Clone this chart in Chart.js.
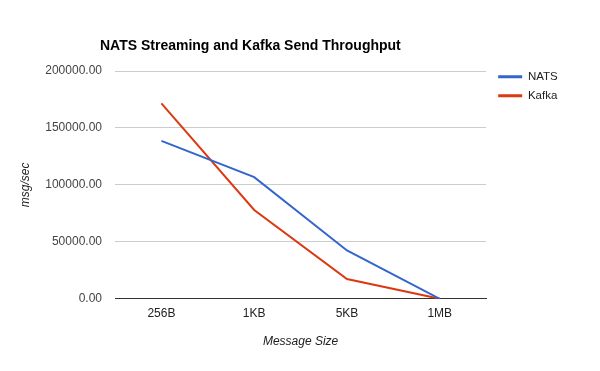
<!DOCTYPE html>
<html>
<head>
<meta charset="utf-8">
<script src="https://cdn.jsdelivr.net/npm/chart.js@4/dist/chart.umd.min.js"></script>
<style>
  html, body { margin: 0; padding: 0; background: #fff; }
</style>
</head>
<body>
<canvas id="chart" width="600" height="371"></canvas>
<script>
// values
const sizes = ['256B', '1KB', '5KB', '1MB'];
const natsRate = [138600, 106800, 42400, 0];
const kafkaRate = [171500, 78000, 17300, 0];
const yTicks = [0, 50000, 100000, 150000, 200000];

const FONT = "'Liberation Sans', Arial, sans-serif";

// google-charts style placement of title and legend
const nudge = {
    id: 'nudge',
    afterLayout(chart) {
        chart.titleBlock.left -= 15;
        chart.legend.left += 4.5;
        chart.legend.top -= 7.5;
    }
};

new Chart(document.getElementById('chart'), {
    type: 'line',
    data: {
        labels: sizes,
        datasets: [
            { label: 'NATS', data: natsRate, borderColor: '#3366cc', backgroundColor: '#3366cc' },
            { label: 'Kafka', data: kafkaRate, borderColor: '#dc3912', backgroundColor: '#dc3912' }
        ]
    },
    options: {
        responsive: false,
        animation: false,
        layout: { padding: { left: 0, right: 36.75, top: 0, bottom: 0 } },
        elements: {
            line: { borderWidth: 2, tension: 0 },
            point: { radius: 0 }
        },
        plugins: {
            title: {
                display: true,
                text: 'NATS Streaming and Kafka Send Throughput',
                align: 'start',
                fullSize: false,
                color: '#000',
                font: { family: FONT, size: 14, weight: 'bold' },
                padding: { top: 37.5, bottom: 16.7 }
            },
            legend: {
                position: 'right',
                align: 'start',
                fullSize: false,
                labels: {
                    boxWidth: 24,
                    boxHeight: 3,
                    padding: 7.5,
                    color: '#222',
                    font: { family: FONT, size: 11.5 },
                    generateLabels: chart => Chart.defaults.plugins.legend.labels
                        .generateLabels(chart).map(l => ({ ...l, lineWidth: 0 }))
                }
            },
            tooltip: { enabled: false }
        },
        scales: {
            x: {
                offset: true,
                grid: { display: false, drawTicks: false },
                border: { display: true, color: '#333', width: 1 },
                ticks: { color: '#222', padding: 8, font: { family: FONT, size: 12 } },
                title: {
                    display: true,
                    text: 'Message Size',
                    color: '#222',
                    font: { family: FONT, size: 12, style: 'italic' },
                    padding: { top: 5.4, bottom: 22 }
                }
            },
            y: {
                min: 0,
                max: 200000,
                afterBuildTicks: scale => { scale.ticks = yTicks.map(v => ({ value: v })); },
                afterFit: scale => { scale.width = 115; },
                grid: { color: '#cccccc', drawTicks: false },
                border: { display: false },
                ticks: {
                    color: '#444',
                    padding: 13,
                    font: { family: FONT, size: 12 },
                    callback: v => v.toFixed(2)
                },
                title: {
                    display: true,
                    text: 'msg/sec',
                    color: '#222',
                    font: { family: FONT, size: 12, style: 'italic' },
                    padding: { top: 18, bottom: 0 }
                }
            }
        }
    },
    plugins: [nudge]
});
</script>
</body>
</html>
